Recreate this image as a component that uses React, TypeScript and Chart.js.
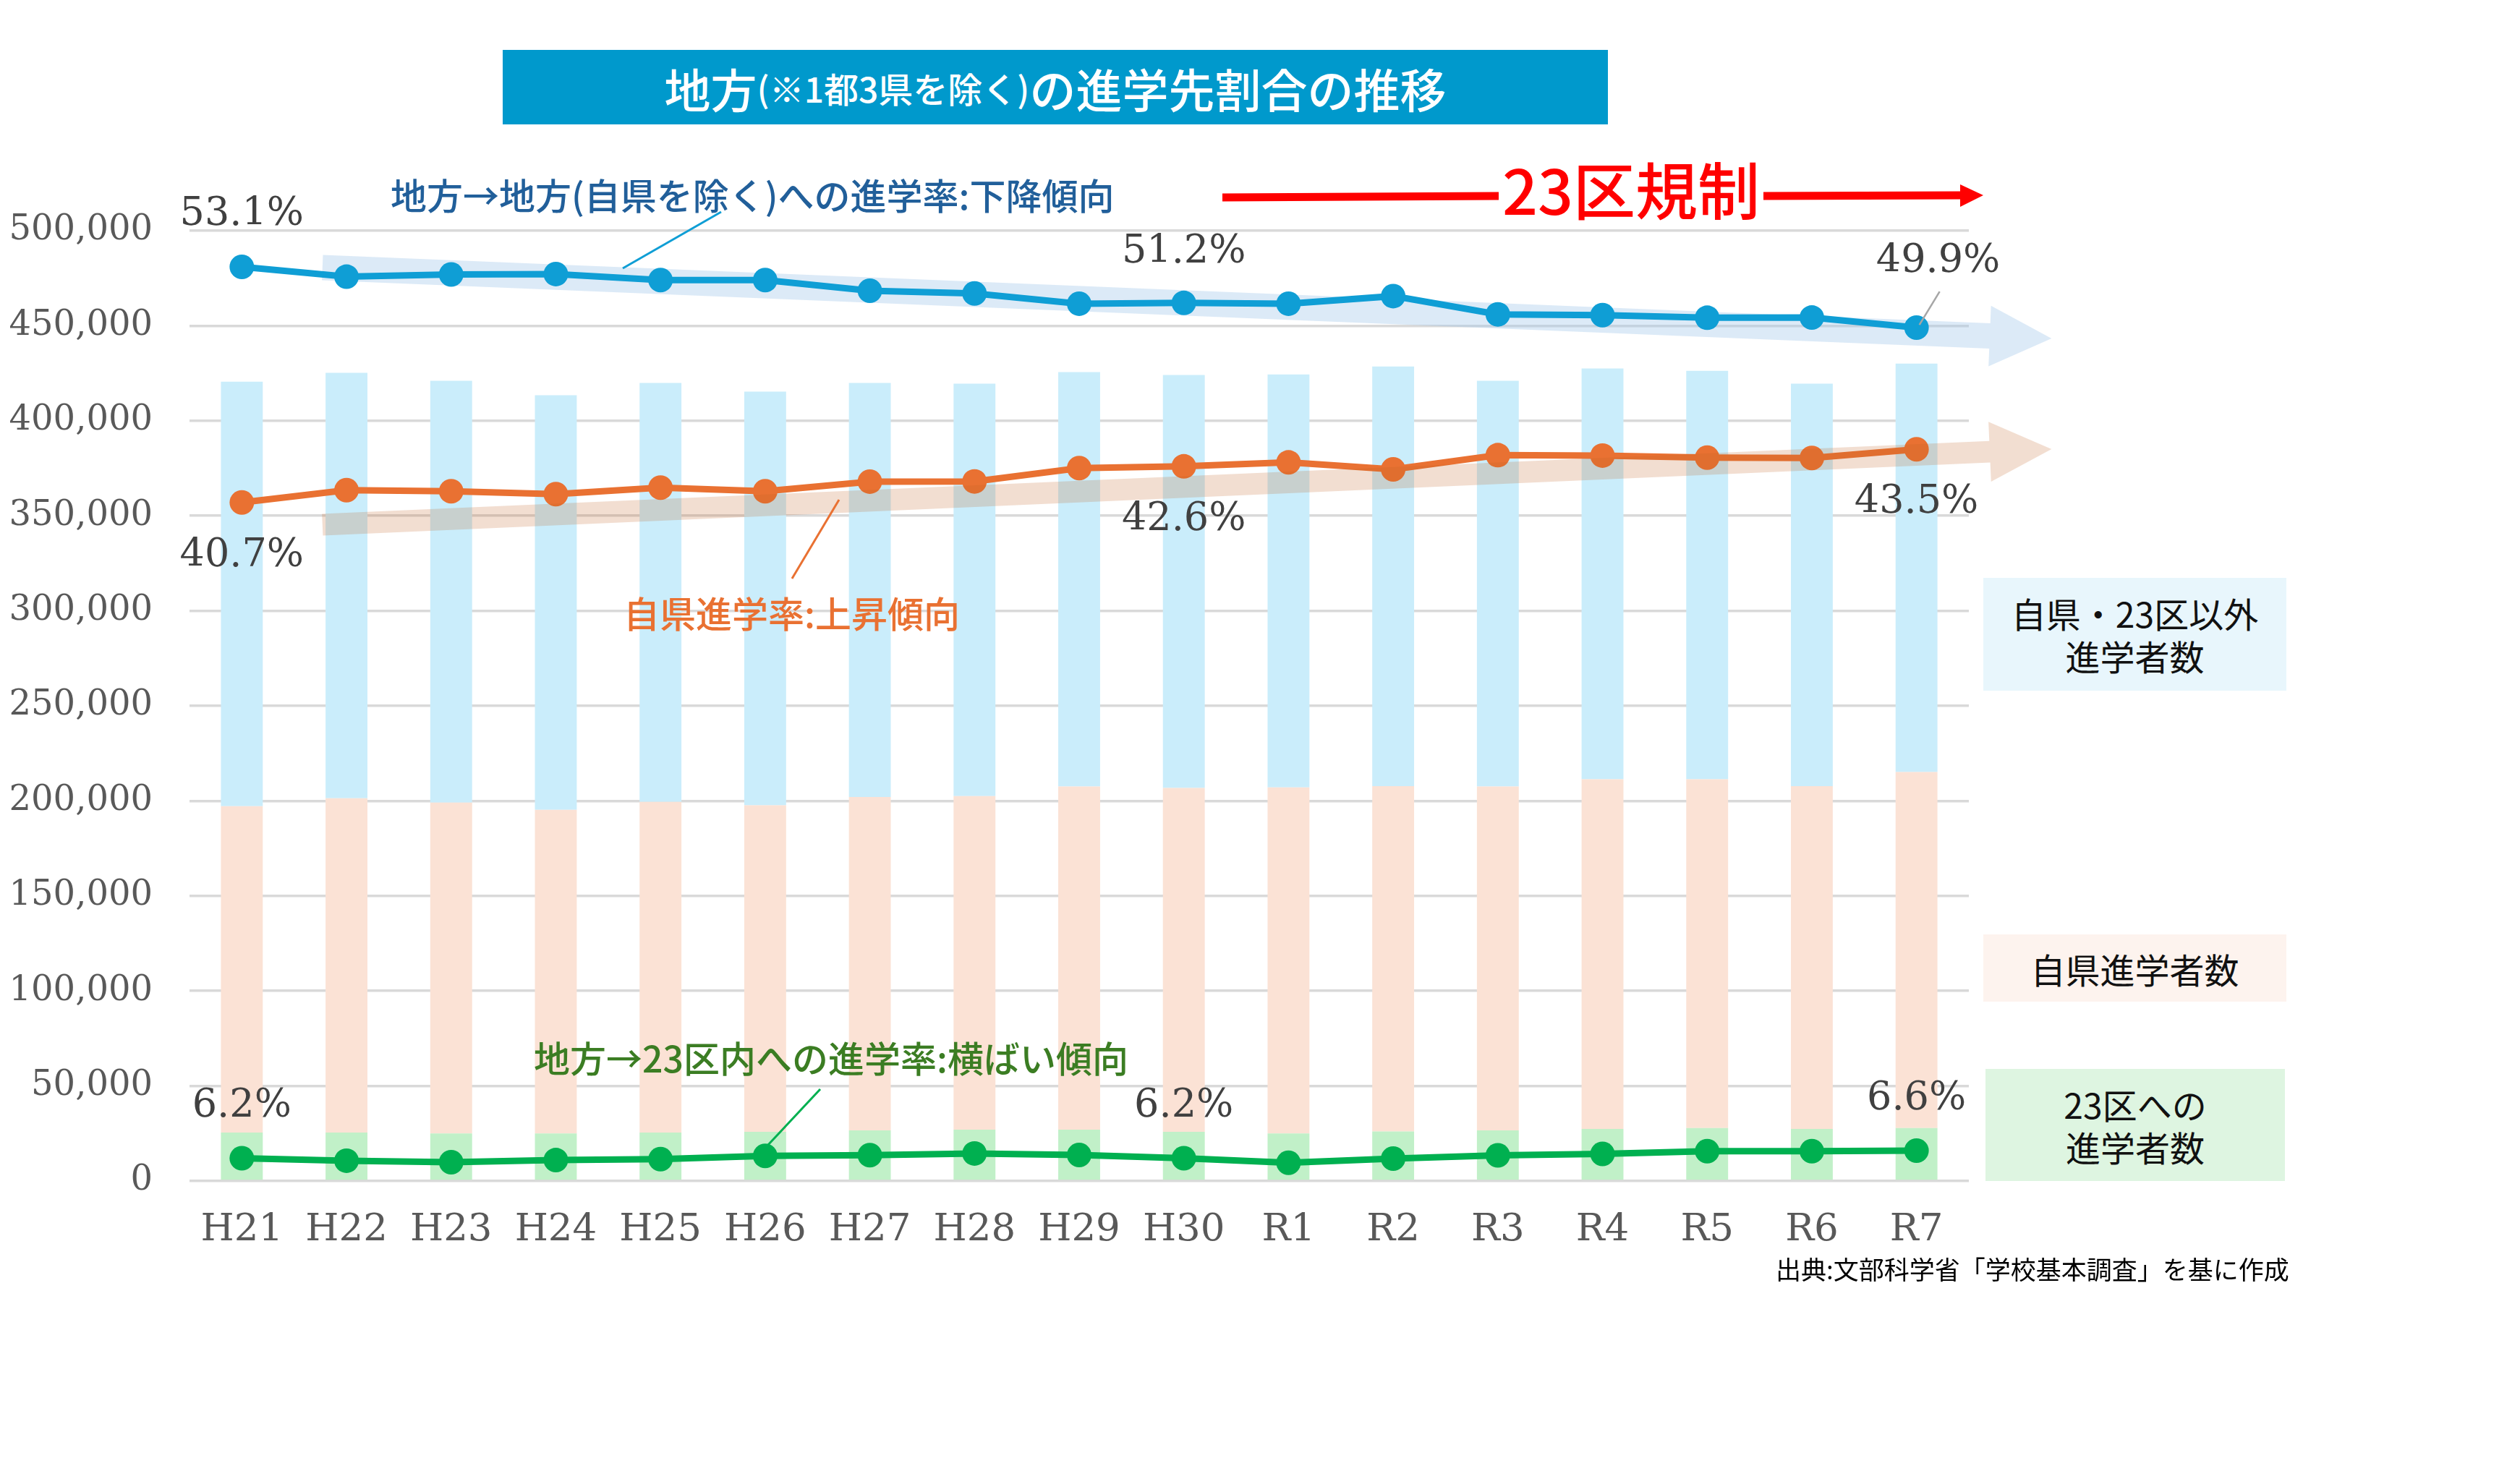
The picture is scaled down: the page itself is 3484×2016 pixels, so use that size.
import React, { useEffect, useRef } from "react";
import { Chart, registerables } from "chart.js";

Chart.register(...registerables);

// ---------- data ----------
const categories = ["H21", "H22", "H23", "H24", "H25", "H26", "H27", "H28", "H29", "H30", "R1", "R2", "R3", "R4", "R5", "R6", "R7"];
// 23区への進学者数
const to23ku = [25500, 25500, 25000, 25000, 25500, 25900, 26600, 27000, 27000, 25900, 25000, 26100, 26600, 27400, 27900, 27400, 27900];
// 自県進学者数
const ownPref = [171700, 175900, 174100, 170300, 174000, 171800, 175500, 175500, 180600, 180900, 182100, 181700, 181000, 184000, 183500, 180400, 187300];
// 自県・23区以外進学者数
const otherPref = [223400, 223800, 221900, 218100, 220400, 217600, 217800, 217000, 218000, 217300, 217300, 220800, 213400, 216100, 214900, 211700, 214900];
// 進学率 (%)
const rateOther = [53.1, 52.58, 52.7, 52.72, 52.4, 52.4, 51.84, 51.7, 51.16, 51.2, 51.16, 51.56, 50.6, 50.56, 50.42, 50.43, 49.9];
const rateOwn = [40.7, 41.35, 41.29, 41.14, 41.48, 41.29, 41.8, 41.81, 42.51, 42.6, 42.81, 42.44, 43.19, 43.17, 43.06, 43.04, 43.5];
const rate23 = [6.2, 6.07, 5.99, 6.1, 6.15, 6.32, 6.36, 6.45, 6.37, 6.2, 5.96, 6.18, 6.35, 6.43, 6.57, 6.57, 6.6];
const labeledIdx = [0, 9, 16];
const yTicksMax = 500000;
const yTickStep = 50000;
const pctMin = 5;
const pctMax = 55;

// ---------- styles ----------
const W = 3484;
const H = 2016;
const SERIF = "'DejaVu Serif', serif";
const JP = "'Noto Sans CJK JP', 'Noto Sans', sans-serif";
const C = {
  blueLine: "#0F9ED5",
  orangeLine: "#E97132",
  greenLine: "#00B050",
  blueBar: "#CAEDFB",
  orangeBar: "#FBE2D5",
  greenBar: "#C1F0C8",
  grid: "#D9D9D9",
  tick: "#595959",
  label: "#404040",
};

// trend arrows (category index / percent on hidden axis)
const arrowGeo = {
  blue: { i0: 0.77, p0: 53.06, i1: 16.7, p1: 49.46, tip: 17.29, shaft: 35, head: 84, color: "rgba(158,198,232,0.36)" },
  orange: { i0: 0.77, p0: 39.53, i1: 16.7, p1: 43.37, tip: 17.29, shaft: 30, head: 83, color: "rgba(193,98,40,0.21)" },
};

function idxX(chart: any, i: number) {
  const s = chart.scales.x;
  const a = s.getPixelForValue(0);
  const b = s.getPixelForValue(1);
  return a + (b - a) * i;
}

function drawArrow(chart: any, g: any) {
  const ctx = chart.ctx;
  const y1s = chart.scales.y1;
  const x0 = idxX(chart, g.i0), y0 = y1s.getPixelForValue(g.p0);
  const x1 = idxX(chart, g.i1), y1 = y1s.getPixelForValue(g.p1);
  const xt = idxX(chart, g.tip);
  const dx = x1 - x0, dy = y1 - y0;
  const len = Math.hypot(dx, dy);
  const ux = dx / len, uy = dy / len;
  const nx = -uy, ny = ux;
  const t = (xt - x1) / ux;
  const tx = x1 + ux * t, ty = y1 + uy * t;
  const s = g.shaft / 2, h = g.head / 2;
  ctx.save();
  ctx.beginPath();
  ctx.moveTo(x0 + nx * s, y0 + ny * s);
  ctx.lineTo(x1 + nx * s, y1 + ny * s);
  ctx.lineTo(x1 + nx * h, y1 + ny * h);
  ctx.lineTo(tx, ty);
  ctx.lineTo(x1 - nx * h, y1 - ny * h);
  ctx.lineTo(x1 - nx * s, y1 - ny * s);
  ctx.lineTo(x0 - nx * s, y0 - ny * s);
  ctx.closePath();
  ctx.fillStyle = g.color;
  ctx.fill();
  ctx.restore();
}

function line(ctx: any, x0: number, y0: number, x1: number, y1: number, color: string, w: number) {
  ctx.save();
  ctx.beginPath();
  ctx.moveTo(x0, y0);
  ctx.lineTo(x1, y1);
  ctx.strokeStyle = color;
  ctx.lineWidth = w;
  ctx.stroke();
  ctx.restore();
}

const decorPlugin = {
  id: "decor",
  beforeDatasetsDraw(chart: any) {
    drawArrow(chart, arrowGeo.blue);
  },
  afterDatasetsDraw(chart: any) {
    drawArrow(chart, arrowGeo.orange);
    const ctx = chart.ctx;
    // data labels
    const specs = [
      { ds: 0, data: rateOther, off: [[0, -72], [0, -70], [30, -91]] },
      { ds: 1, data: rateOwn, off: [[0, 74], [0, 74], [0, 74]] },
      { ds: 2, data: rate23, off: [[0, -71], [0, -71], [0, -71]] },
    ];
    ctx.save();
    ctx.font = `54px ${SERIF}`;
    ctx.fillStyle = C.label;
    ctx.textAlign = "center";
    ctx.textBaseline = "middle";
    specs.forEach((sp) => {
      const meta = chart.getDatasetMeta(sp.ds);
      labeledIdx.forEach((idx, k) => {
        const pt = meta.data[idx];
        ctx.fillText(sp.data[idx].toFixed(1) + "%", pt.x + sp.off[k][0], pt.y + sp.off[k][1]);
      });
    });
    ctx.restore();
    // leader for last blue label
    const last = chart.getDatasetMeta(0).data[16];
    line(ctx, last.x + 4, last.y - 4, last.x + 32, last.y - 50, "#A6A6A6", 2.5);
    // annotation leader lines
    line(ctx, 861, 371, 997, 293, C.blueLine, 3);
    line(ctx, 1095, 800, 1160, 691, C.orangeLine, 3);
    line(ctx, 1062, 1583, 1134, 1506, C.greenLine, 3);
    // red arrow
    ctx.save();
    ctx.strokeStyle = "#FF0000";
    ctx.lineWidth = 11;
    ctx.beginPath();
    ctx.moveTo(1690, 273);
    ctx.lineTo(2072, 271);
    ctx.moveTo(2438, 271);
    ctx.lineTo(2716, 270);
    ctx.stroke();
    ctx.beginPath();
    ctx.moveTo(2710, 255);
    ctx.lineTo(2742, 270);
    ctx.lineTo(2710, 286);
    ctx.closePath();
    ctx.fillStyle = "#FF0000";
    ctx.fill();
    ctx.restore();
  },
};

function ChartCanvas() {
  const ref = useRef<HTMLCanvasElement>(null);
  useEffect(() => {
    const canvas = ref.current;
    if (!canvas) return;
    const lineDs = (label: string, data: number[], color: string) => ({
      type: "line" as const,
      label,
      data,
      yAxisID: "y1",
      borderColor: color,
      backgroundColor: color,
      borderWidth: 9,
      pointRadius: 17,
      pointHoverRadius: 17,
      pointBorderWidth: 0,
      pointBackgroundColor: color,
      tension: 0,
      order: 0,
    });
    const barDs = (label: string, data: number[], color: string) => ({
      type: "bar" as const,
      label,
      data,
      yAxisID: "y",
      backgroundColor: color,
      borderWidth: 0,
      barPercentage: 0.4,
      categoryPercentage: 1,
      stack: "s",
      order: 1,
    });
    const chart = new Chart(canvas, {
      type: "bar",
      data: {
        labels: categories,
        datasets: [
          lineDs("地方→地方(自県を除く)への進学率", rateOther, C.blueLine),
          lineDs("自県進学率", rateOwn, C.orangeLine),
          lineDs("地方→23区内への進学率", rate23, C.greenLine),
          barDs("23区への進学者数", to23ku, C.greenBar),
          barDs("自県進学者数", ownPref, C.orangeBar),
          barDs("自県・23区以外進学者数", otherPref, C.blueBar),
        ] as any,
      },
      options: {
        animation: false,
        responsive: false,
        devicePixelRatio: 1,
        layout: { padding: { left: 0, top: 319, right: W - 2722, bottom: H - 1633 - 120 } },
        plugins: { legend: { display: false }, tooltip: { enabled: false }, title: { display: false } },
        scales: {
          x: {
            stacked: true,
            grid: { display: false },
            border: { display: false },
            ticks: { color: C.tick, font: { family: SERIF, size: 53 }, padding: 28, maxRotation: 0, autoSkip: false },
            afterFit: (s: any) => { s.height = 120; },
          },
          y: {
            stacked: true,
            min: 0,
            max: yTicksMax,
            grid: { color: C.grid, lineWidth: 3.5, drawTicks: false },
            border: { display: false },
            ticks: {
              stepSize: yTickStep,
              color: C.tick,
              font: { family: SERIF, size: 48 },
              padding: 51,
              callback: (v: any) => Number(v).toLocaleString("en-US"),
            },
            afterFit: (s: any) => { s.width = 262; },
          },
          y1: {
            display: false,
            min: pctMin,
            max: pctMax,
            stacked: false,
          },
        },
      } as any,
      plugins: [decorPlugin],
    });
    return () => chart.destroy();
  }, []);
  return <canvas ref={ref} width={W} height={H} style={{ position: "absolute", left: 0, top: 0, width: W, height: H }} />;
}

const abs = (s: React.CSSProperties): React.CSSProperties => ({ position: "absolute", whiteSpace: "nowrap", fontFamily: JP, lineHeight: 1, ...s });

export default function App() {
  return (
    <div style={{ position: "absolute", left: 0, top: 0, width: W, height: H, background: "#fff", overflow: "hidden" }}>
      <ChartCanvas />
      {/* title */}
      <div style={abs({ left: 695, top: 69, width: 1528, height: 103, background: "#0099CC", color: "#fff", display: "flex", alignItems: "center", justifyContent: "center", fontWeight: 500 })}>
        <span style={{ fontSize: 64 }}>地方</span>
        <span style={{ fontSize: 48 }}>(※1都3県を除く)</span>
        <span style={{ fontSize: 64 }}>の進学先割合の推移</span>
      </div>
      {/* annotations */}
      <div style={abs({ left: 540, top: 240, height: 56, display: "flex", alignItems: "center", fontSize: 50, fontWeight: 500, color: "#215F9A" })}>地方→地方(自県を除く)への進学率:下降傾向</div>
      <div style={abs({ left: 862, top: 818, height: 56, display: "flex", alignItems: "center", fontSize: 50, fontWeight: 500, color: C.orangeLine })}>自県進学率:上昇傾向</div>
      <div style={abs({ left: 738, top: 1433, height: 56, display: "flex", alignItems: "center", fontSize: 50, fontWeight: 500, color: "#3B7D23" })}>地方→23区内への進学率:横ばい傾向</div>
      <div style={abs({ left: 2077, top: 212, height: 96, display: "flex", alignItems: "center", fontSize: 86, fontWeight: 500, color: "#FF0000" })}>23区規制</div>
      {/* legend boxes */}
      <div style={abs({ left: 2742, top: 799, width: 419, height: 156, background: "#E8F6FC", color: "#111", display: "flex", flexDirection: "column", alignItems: "center", justifyContent: "center", fontSize: 48, lineHeight: "59px" })}>
        <div>自県・23区以外</div>
        <div>進学者数</div>
      </div>
      <div style={abs({ left: 2742, top: 1292, width: 419, height: 93, background: "#FDF3EE", color: "#111", display: "flex", alignItems: "center", justifyContent: "center", fontSize: 48 })}>自県進学者数</div>
      <div style={abs({ left: 2745, top: 1478, width: 414, height: 155, background: "#DEF5E1", color: "#111", display: "flex", flexDirection: "column", alignItems: "center", justifyContent: "center", fontSize: 48, lineHeight: "59px" })}>
        <div>23区への</div>
        <div>進学者数</div>
      </div>
      {/* source */}
      <div style={abs({ left: 2455, top: 1733, height: 40, display: "flex", alignItems: "center", fontSize: 35, color: "#000" })}>出典:文部科学省「学校基本調査」を基に作成</div>
    </div>
  );
}
